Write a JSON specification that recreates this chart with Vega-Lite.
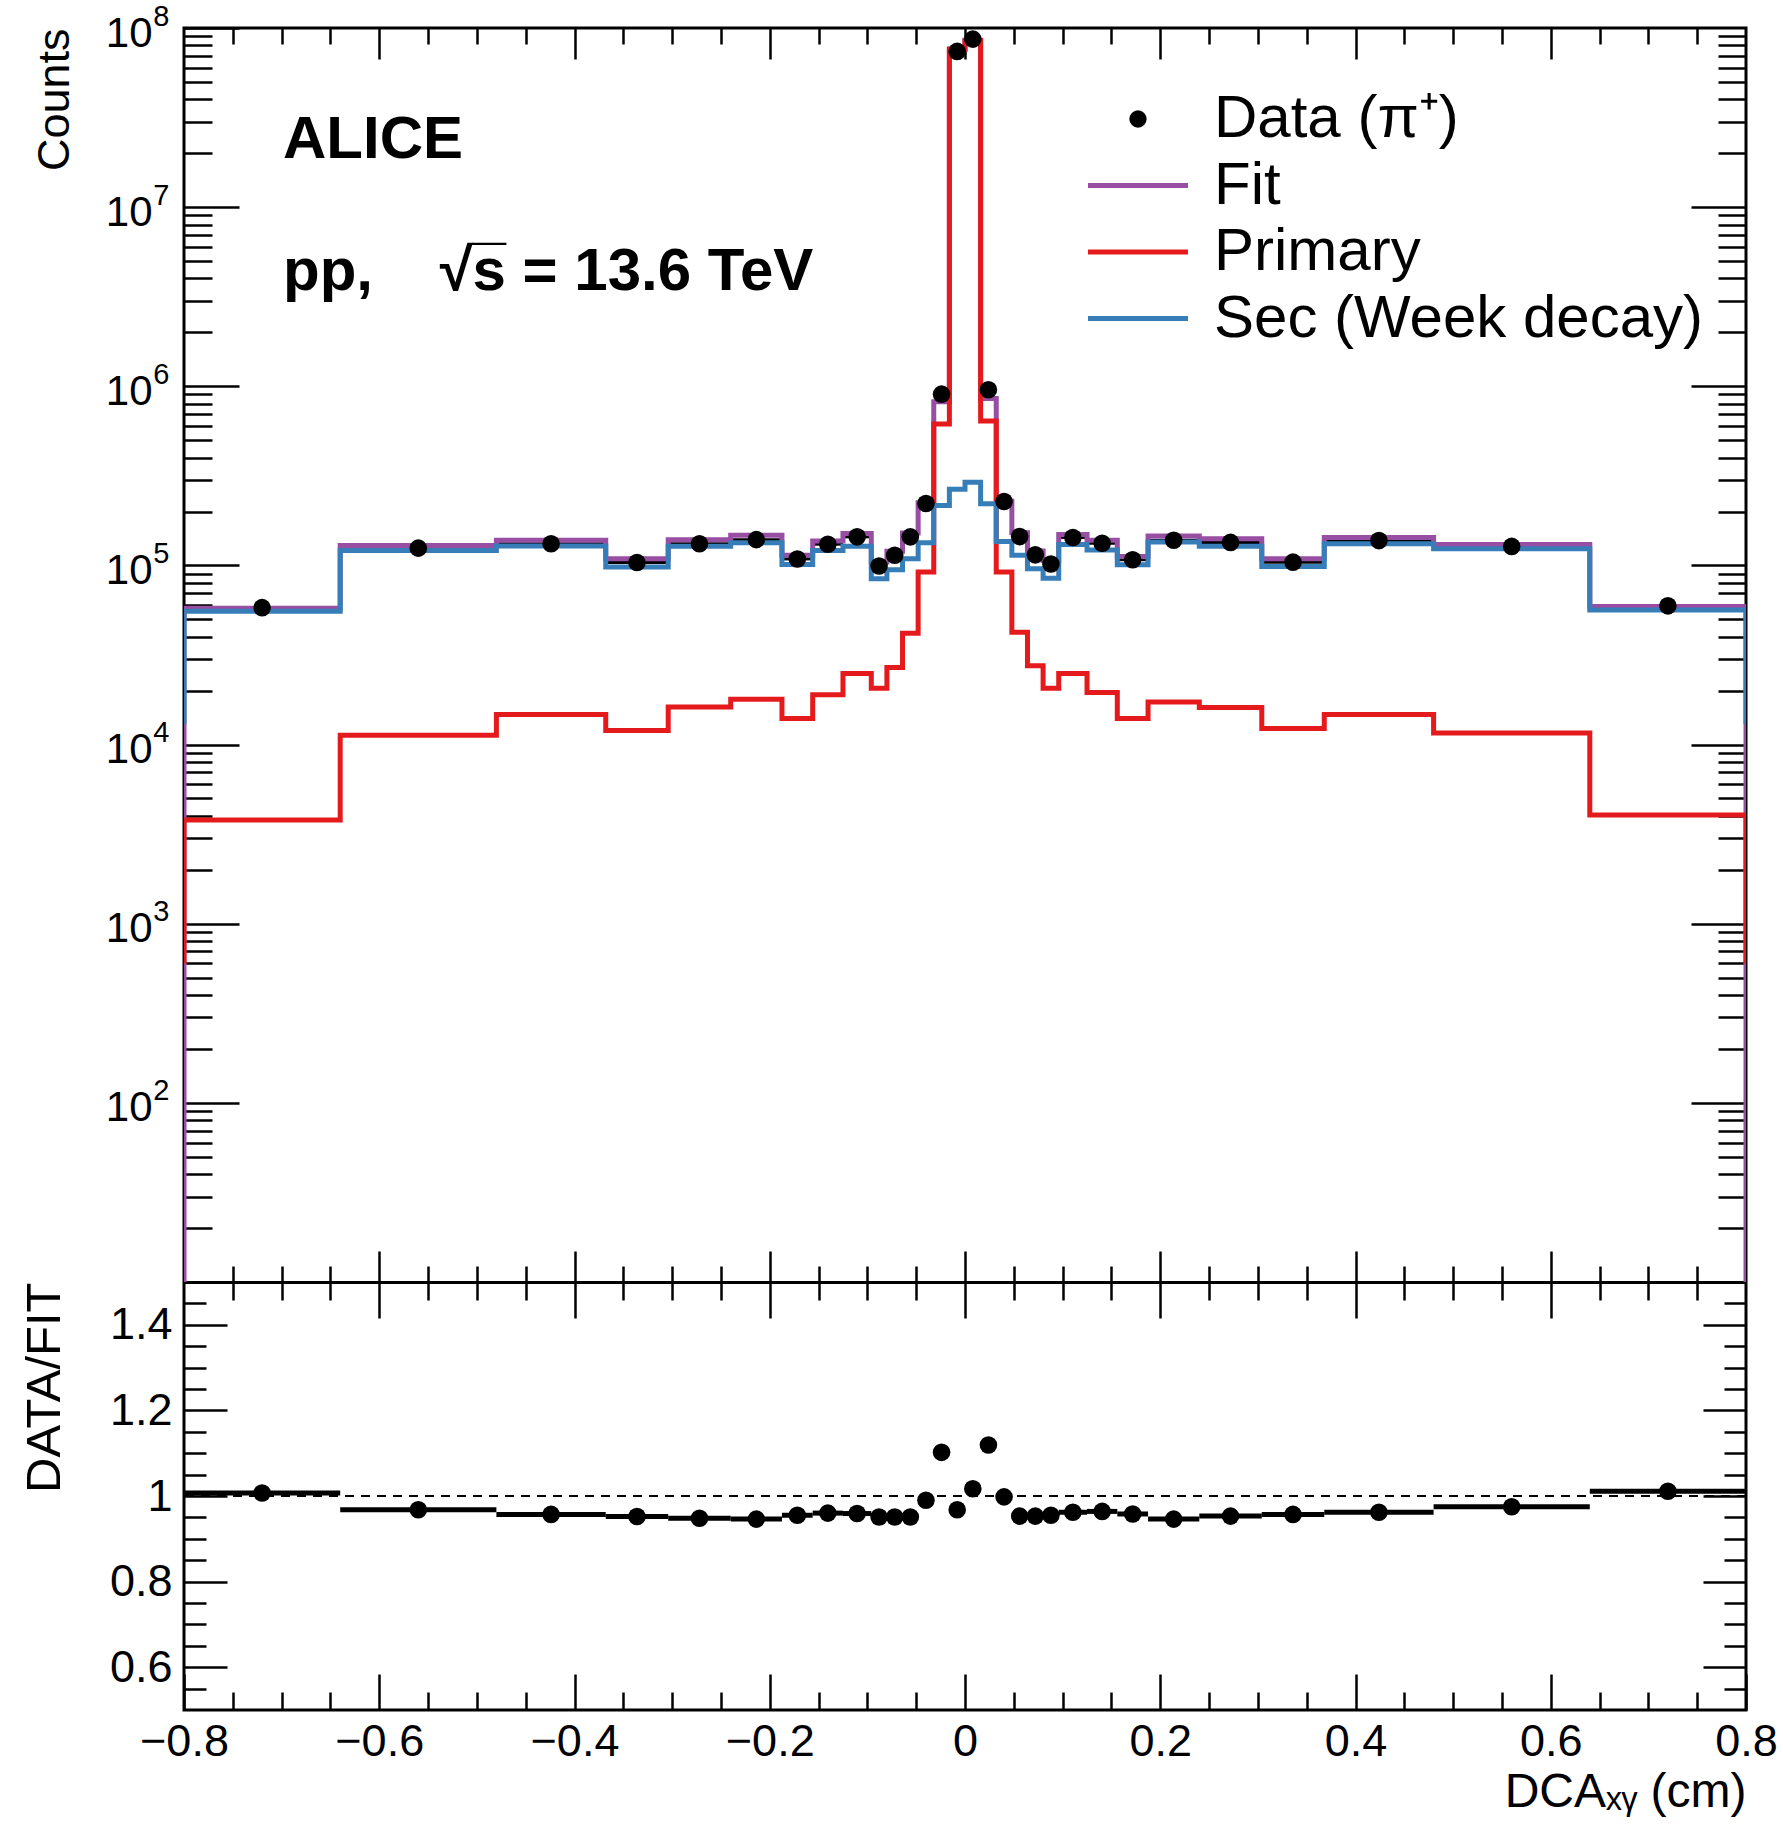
{
  "$schema": "https://vega.github.io/schema/vega-lite/v6.json",
  "autosize": {"type": "none"},
  "padding": {"left": 184, "top": 28, "right": 37, "bottom": 117},
  "background": "white",
  "width": 1562,
  "height": 1682,
  "config": {
    "view": {"stroke": "black", "strokeWidth": 3},
    "font": "Liberation Sans",
    "axis": {
      "domain": false, "grid": false,
      "labelFont": "Liberation Sans", "labelFontSize": 42, "labelColor": "black",
      "titleFont": "Liberation Sans", "titleFontSize": 45, "titleFontWeight": "normal", "titleColor": "black",
      "tickColor": "black", "tickWidth": 2.5, "labelOverlap": false, "labelFlush": false, "labelBound": false
    }
  },
  "datasets": {
    "bins": [
      {"lo": -0.8, "hi": -0.64, "c": -0.72, "data": 58100, "ratio": 1.007},
      {"lo": -0.64, "hi": -0.48, "c": -0.56, "data": 124900, "ratio": 0.968},
      {"lo": -0.48, "hi": -0.368, "c": -0.424, "data": 132100, "ratio": 0.957},
      {"lo": -0.368, "hi": -0.304, "c": -0.336, "data": 103800, "ratio": 0.952},
      {"lo": -0.304, "hi": -0.24, "c": -0.272, "data": 132100, "ratio": 0.948},
      {"lo": -0.24, "hi": -0.1875, "c": -0.21375, "data": 139300, "ratio": 0.946},
      {"lo": -0.1875, "hi": -0.156, "c": -0.17175, "data": 108700, "ratio": 0.955},
      {"lo": -0.156, "hi": -0.125, "c": -0.1405, "data": 131400, "ratio": 0.96},
      {"lo": -0.125, "hi": -0.096, "c": -0.1105, "data": 144400, "ratio": 0.959},
      {"lo": -0.096, "hi": -0.08, "c": -0.088, "data": 99300, "ratio": 0.951},
      {"lo": -0.08, "hi": -0.064, "c": -0.072, "data": 113900, "ratio": 0.951},
      {"lo": -0.064, "hi": -0.048, "c": -0.056, "data": 144300, "ratio": 0.951},
      {"lo": -0.048, "hi": -0.032, "c": -0.04, "data": 221800, "ratio": 0.99},
      {"lo": -0.032, "hi": -0.016, "c": -0.024, "data": 903600, "ratio": 1.102},
      {"lo": -0.016, "hi": 0, "c": -0.008, "data": 74000000, "ratio": 0.968},
      {"lo": 0, "hi": 0.016, "c": 0.008, "data": 86700000, "ratio": 1.017},
      {"lo": 0.016, "hi": 0.032, "c": 0.024, "data": 956700, "ratio": 1.119},
      {"lo": 0.032, "hi": 0.048, "c": 0.04, "data": 227500, "ratio": 0.998},
      {"lo": 0.048, "hi": 0.064, "c": 0.056, "data": 144900, "ratio": 0.953},
      {"lo": 0.064, "hi": 0.08, "c": 0.072, "data": 114600, "ratio": 0.953},
      {"lo": 0.08, "hi": 0.096, "c": 0.088, "data": 101900, "ratio": 0.955},
      {"lo": 0.096, "hi": 0.125, "c": 0.1105, "data": 143300, "ratio": 0.962},
      {"lo": 0.125, "hi": 0.156, "c": 0.1405, "data": 133000, "ratio": 0.964},
      {"lo": 0.156, "hi": 0.1875, "c": 0.17175, "data": 107600, "ratio": 0.958},
      {"lo": 0.1875, "hi": 0.24, "c": 0.21375, "data": 138100, "ratio": 0.946},
      {"lo": 0.24, "hi": 0.304, "c": 0.272, "data": 134400, "ratio": 0.953},
      {"lo": 0.304, "hi": 0.368, "c": 0.336, "data": 104300, "ratio": 0.957},
      {"lo": 0.368, "hi": 0.48, "c": 0.424, "data": 137600, "ratio": 0.962},
      {"lo": 0.48, "hi": 0.64, "c": 0.56, "data": 127700, "ratio": 0.975},
      {"lo": 0.64, "hi": 0.8, "c": 0.72, "data": 59500, "ratio": 1.011}
    ],
    "steps": [
      {"x": -0.8, "Fit": 10, "Primary": 600, "Sec": 13000},
      {"x": -0.8, "Fit": 57700, "Primary": 3790, "Sec": 55500},
      {"x": -0.64, "Fit": 129000, "Primary": 11270, "Sec": 121300},
      {"x": -0.48, "Fit": 138000, "Primary": 14700, "Sec": 128300},
      {"x": -0.368, "Fit": 109000, "Primary": 12000, "Sec": 97900},
      {"x": -0.304, "Fit": 139300, "Primary": 16200, "Sec": 127800},
      {"x": -0.24, "Fit": 147200, "Primary": 17900, "Sec": 134000},
      {"x": -0.1875, "Fit": 113800, "Primary": 14000, "Sec": 101300},
      {"x": -0.156, "Fit": 136900, "Primary": 19000, "Sec": 121300},
      {"x": -0.125, "Fit": 150600, "Primary": 24900, "Sec": 127800},
      {"x": -0.096, "Fit": 104400, "Primary": 20600, "Sec": 84200},
      {"x": -0.08, "Fit": 119800, "Primary": 26900, "Sec": 94600},
      {"x": -0.064, "Fit": 151700, "Primary": 41800, "Sec": 109000},
      {"x": -0.048, "Fit": 224000, "Primary": 91800, "Sec": 134000},
      {"x": -0.032, "Fit": 820000, "Primary": 615000, "Sec": 216000},
      {"x": -0.016, "Fit": 76400000, "Primary": 76100000, "Sec": 266000},
      {"x": 0, "Fit": 85300000, "Primary": 85000000, "Sec": 291000},
      {"x": 0.016, "Fit": 855000, "Primary": 641000, "Sec": 221000},
      {"x": 0.032, "Fit": 228000, "Primary": 92000, "Sec": 136000},
      {"x": 0.048, "Fit": 152000, "Primary": 42300, "Sec": 114000},
      {"x": 0.064, "Fit": 120300, "Primary": 27500, "Sec": 95800},
      {"x": 0.08, "Fit": 106700, "Primary": 20600, "Sec": 84900},
      {"x": 0.096, "Fit": 149000, "Primary": 24900, "Sec": 131000},
      {"x": 0.125, "Fit": 138000, "Primary": 19500, "Sec": 122000},
      {"x": 0.156, "Fit": 112300, "Primary": 14000, "Sec": 101000},
      {"x": 0.1875, "Fit": 146000, "Primary": 17300, "Sec": 135000},
      {"x": 0.24, "Fit": 141000, "Primary": 16100, "Sec": 128000},
      {"x": 0.304, "Fit": 109000, "Primary": 12300, "Sec": 98700},
      {"x": 0.368, "Fit": 143000, "Primary": 14700, "Sec": 132000},
      {"x": 0.48, "Fit": 131000, "Primary": 11600, "Sec": 124000},
      {"x": 0.64, "Fit": 58900, "Primary": 4050, "Sec": 56400},
      {"x": 0.8, "Fit": 10, "Primary": 600, "Sec": 13000}
    ]
  },
  "layer": [
    {
      "layer": [
        {
          "data": {"name": "bins"},
          "mark": {"type": "rule", "color": "black", "strokeWidth": 3},
          "encoding": {
            "x": {
              "field": "lo", "type": "quantitative",
              "scale": {"domain": [-0.8, 0.8], "nice": false, "zero": false},
              "axis": {
                "orient": "bottom", "offset": -428, "title": null, "labels": false,
                "domain": true, "domainColor": "black", "domainWidth": 3,
                "values": [-0.75,-0.7,-0.65,-0.6,-0.55,-0.5,-0.45,-0.4,-0.35,-0.3,-0.25,-0.2,-0.15,-0.1,-0.05,0,0.05,0.1,0.15,0.2,0.25,0.3,0.35,0.4,0.45,0.5,0.55,0.6,0.65,0.7,0.75],
                "tickSize": {"condition": {"test": "abs(datum.value*5 - round(datum.value*5)) < 0.001", "value": -31}, "value": -16}
              }
            },
            "x2": {"field": "hi"},
            "y": {
              "field": "data", "type": "quantitative",
              "scale": {"type": "log", "domain": [10, 100000000], "range": [1254, 0], "nice": false},
              "axis": {
                "orient": "left", "title": "Counts", "titleAnchor": "end", "titlePadding": 28,
                "values": [20,30,40,50,60,70,80,90,100,200,300,400,500,600,700,800,900,1000,2000,3000,4000,5000,6000,7000,8000,9000,10000,20000,30000,40000,50000,60000,70000,80000,90000,100000,200000,300000,400000,500000,600000,700000,800000,900000,1000000,2000000,3000000,4000000,5000000,6000000,7000000,8000000,9000000,10000000,20000000,30000000,40000000,50000000,60000000,70000000,80000000,90000000,100000000],
                "labelExpr": "abs(log(datum.value)/LN10 - round(log(datum.value)/LN10)) < 0.001 ? '10' : ''",
                "labelPadding": 87, "labelOffset": 5,
                "tickSize": {"condition": {"test": "abs(log(datum.value)/LN10 - round(log(datum.value)/LN10)) < 0.001", "value": -55}, "value": -28}
              }
            }
          }
        },
        {
          "data": {"name": "steps"},
          "transform": [{"fold": ["Fit", "Primary", "Sec"], "as": ["key", "value"]}],
          "mark": {"type": "line", "interpolate": "step-after", "strokeWidth": 5, "clip": true},
          "encoding": {
            "x": {
              "field": "x", "type": "quantitative",
              "axis": {
                "orient": "top", "title": null, "labels": false,
                "values": [-0.75,-0.7,-0.65,-0.6,-0.55,-0.5,-0.45,-0.4,-0.35,-0.3,-0.25,-0.2,-0.15,-0.1,-0.05,0,0.05,0.1,0.15,0.2,0.25,0.3,0.35,0.4,0.45,0.5,0.55,0.6,0.65,0.7,0.75],
                "tickSize": {"condition": {"test": "abs(datum.value*5 - round(datum.value*5)) < 0.001", "value": -31}, "value": -16}
              }
            },
            "y": {
              "field": "value", "type": "quantitative",
              "axis": {
                "orient": "right", "title": null, "labels": false,
                "values": [20,30,40,50,60,70,80,90,100,200,300,400,500,600,700,800,900,1000,2000,3000,4000,5000,6000,7000,8000,9000,10000,20000,30000,40000,50000,60000,70000,80000,90000,100000,200000,300000,400000,500000,600000,700000,800000,900000,1000000,2000000,3000000,4000000,5000000,6000000,7000000,8000000,9000000,10000000,20000000,30000000,40000000,50000000,60000000,70000000,80000000,90000000],
                "tickSize": {"condition": {"test": "abs(log(datum.value)/LN10 - round(log(datum.value)/LN10)) < 0.001", "value": -55}, "value": -28}
              }
            },
            "color": {
              "field": "key", "type": "nominal",
              "scale": {"domain": ["Data", "Fit", "Primary", "Sec"], "range": ["#000000", "#984ea3", "#e41a1c", "#377eb8"]},
              "legend": {
                "orient": "none", "legendX": 924, "legendY": 61, "title": null, "padding": 0, "direction": "vertical",
                "labelFont": "Liberation Sans", "labelFontSize": 60, "labelColor": "black", "labelLimit": 0,
                "labelOffset": 46, "rowPadding": 6.5,
                "symbolType": "stroke", "symbolSize": 230, "symbolStrokeWidth": 5,
                "labelExpr": "datum.value == 'Data' ? 'Data (π⁺)' : (datum.value == 'Sec' ? 'Sec (Week decay)' : datum.value)",
                "encode": {
                  "symbols": {
                    "update": {
                      "shape": {"signal": "datum.value === 'Data' ? 'circle' : 'stroke'"},
                      "size": {"signal": "datum.value === 'Data' ? 300 : 10000"},
                      "fill": {"signal": "datum.value === 'Data' ? 'black' : 'transparent'"},
                      "strokeWidth": {"signal": "datum.value === 'Data' ? 0 : 5"}
                    }
                  }
                }
              }
            },
            "order": {"value": null}
          }
        },
        {
          "data": {"name": "bins"},
          "mark": {"type": "circle", "color": "black", "size": 310, "opacity": 1},
          "encoding": {
            "x": {"field": "c", "type": "quantitative", "axis": null},
            "y": {
              "field": "data", "type": "quantitative",
              "axis": {
                "orient": "left", "title": null, "ticks": false,
                "values": [100,1000,10000,100000,1000000,10000000,100000000],
                "labelExpr": "format(round(log(datum.value)/LN10), 'd')",
                "labelFontSize": 29, "labelPadding": 15, "labelOffset": -12
              }
            }
          }
        },
        {
          "data": {"values": [{}]},
          "mark": {"type": "text", "text": "ALICE", "font": "Liberation Sans", "fontSize": 60, "fontWeight": "bold", "align": "left", "baseline": "alphabetic", "color": "black"},
          "encoding": {
            "x": {"datum": -0.6986, "type": "quantitative", "axis": null},
            "y": {"datum": 18800000, "type": "quantitative", "axis": null}
          }
        },
        {
          "data": {"values": [{}]},
          "mark": {"type": "text", "text": "pp,\u00a0\u00a0\u00a0\u00a0√s\u0305 = 13.6 TeV", "font": "Liberation Sans", "fontSize": 60, "fontWeight": "bold", "align": "left", "baseline": "alphabetic", "color": "black"},
          "encoding": {
            "x": {"datum": -0.6986, "type": "quantitative", "axis": null},
            "y": {"datum": 3450000, "type": "quantitative", "axis": null}
          }
        }
      ],
      "resolve": {"axis": {"x": "independent", "y": "independent"}}
    },
    {
      "layer": [
        {
          "data": {"values": [{}]},
          "mark": {"type": "rule", "color": "black", "strokeWidth": 2, "strokeDash": [9, 7]},
          "encoding": {
            "y": {"datum": 1, "type": "quantitative", "axis": null}
          }
        },
        {
          "data": {"name": "bins"},
          "mark": {"type": "rule", "color": "black", "strokeWidth": 5},
          "encoding": {
            "x": {
              "field": "lo", "type": "quantitative",
              "scale": {"domain": [-0.8, 0.8], "nice": false, "zero": false},
              "axis": {
                "orient": "bottom", "title": "DCAₓᵧ (cm)", "titleAnchor": "end", "titlePadding": -14, "titleFontSize": 48,
                "values": [-0.8,-0.75,-0.7,-0.65,-0.6,-0.55,-0.5,-0.45,-0.4,-0.35,-0.3,-0.25,-0.2,-0.15,-0.1,-0.05,0,0.05,0.1,0.15,0.2,0.25,0.3,0.35,0.4,0.45,0.5,0.55,0.6,0.65,0.7,0.75,0.8],
                "labelExpr": "abs(datum.value*5 - round(datum.value*5)) < 0.001 ? (abs(datum.value) < 0.001 ? '0' : (datum.value < 0 ? '−' + format(-datum.value, '.1f') : format(datum.value, '.1f'))) : ''",
                "labelPadding": 45, "labelFontSize": 45,
                "tickSize": {"condition": {"test": "abs(datum.value*5 - round(datum.value*5)) < 0.001", "value": -36}, "value": -18}
              }
            },
            "x2": {"field": "hi"},
            "y": {
              "field": "ratio", "type": "quantitative",
              "scale": {"domain": [0.5, 1.5], "range": [1682, 1254], "nice": false, "zero": false},
              "axis": {
                "orient": "left", "title": "DATA/FIT", "titleAnchor": "end", "titlePadding": 40, "titleFontSize": 49,
                "values": [0.55,0.6,0.65,0.7,0.75,0.8,0.85,0.9,0.95,1,1.05,1.1,1.15,1.2,1.25,1.3,1.35,1.4,1.45],
                "labelExpr": "abs(datum.value*5 - round(datum.value*5)) < 0.001 ? (abs(datum.value - 1) < 0.001 ? '1' : format(datum.value, '.1f')) : ''",
                "labelPadding": 55, "labelFontSize": 45,
                "tickSize": {"condition": {"test": "abs(datum.value*5 - round(datum.value*5)) < 0.001", "value": -43}, "value": -22}
              }
            }
          }
        },
        {
          "data": {"name": "bins"},
          "mark": {"type": "circle", "color": "black", "size": 310, "opacity": 1},
          "encoding": {
            "x": {
              "field": "c", "type": "quantitative",
              "axis": {
                "orient": "top", "offset": -1254, "title": null, "labels": false,
                "values": [-0.75,-0.7,-0.65,-0.6,-0.55,-0.5,-0.45,-0.4,-0.35,-0.3,-0.25,-0.2,-0.15,-0.1,-0.05,0,0.05,0.1,0.15,0.2,0.25,0.3,0.35,0.4,0.45,0.5,0.55,0.6,0.65,0.7,0.75],
                "tickSize": {"condition": {"test": "abs(datum.value*5 - round(datum.value*5)) < 0.001", "value": -36}, "value": -18}
              }
            },
            "y": {
              "field": "ratio", "type": "quantitative",
              "axis": {
                "orient": "right", "title": null, "labels": false,
                "values": [0.55,0.6,0.65,0.7,0.75,0.8,0.85,0.9,0.95,1,1.05,1.1,1.15,1.2,1.25,1.3,1.35,1.4,1.45],
                "tickSize": {"condition": {"test": "abs(datum.value*5 - round(datum.value*5)) < 0.001", "value": -43}, "value": -22}
              }
            }
          }
        }
      ],
      "resolve": {"axis": {"x": "independent", "y": "independent"}}
    }
  ],
  "resolve": {"scale": {"y": "independent"}, "axis": {"x": "independent", "y": "independent"}}
}
